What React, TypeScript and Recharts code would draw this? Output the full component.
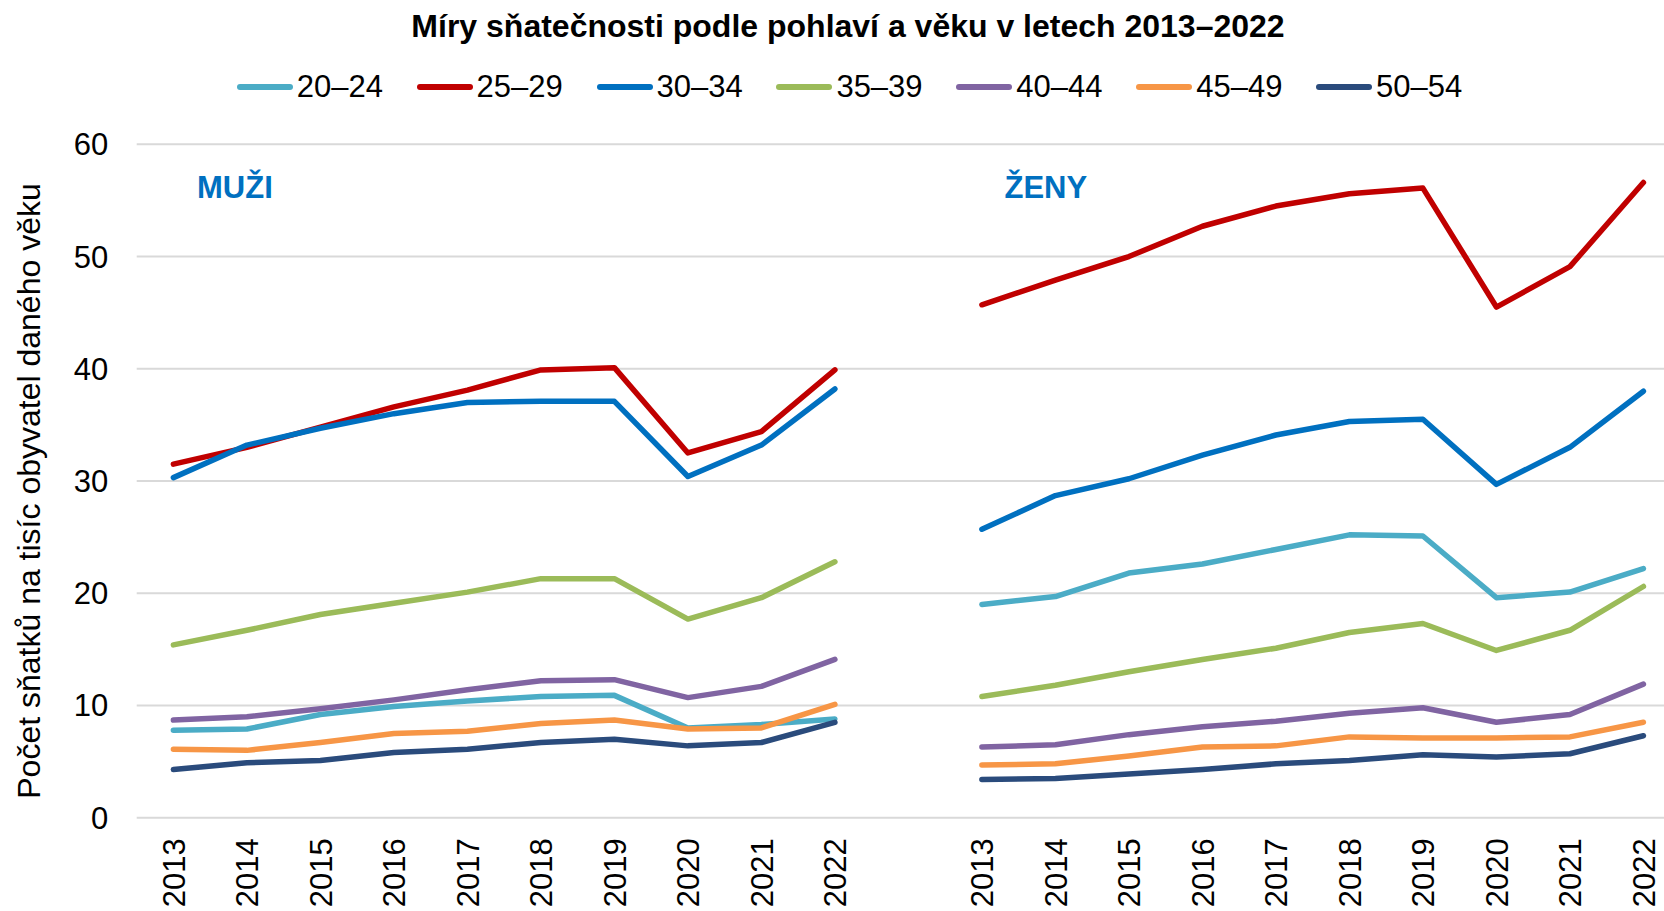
import React from 'react';
import { LineChart, Line, XAxis, YAxis, CartesianGrid, Legend } from 'recharts';

const FONT = '"Liberation Sans", Arial, sans-serif';

const years = ['2013', '2014', '2015', '2016', '2017', '2018', '2019', '2020', '2021', '2022'];
const seriesNames = ['20–24', '25–29', '30–34', '35–39', '40–44', '45–49', '50–54'];
const seriesColors = ['#4BACC6', '#C00000', '#0070C0', '#9BBB59', '#8064A2', '#F79646', '#2A4B7C'];

// MUŽI (men)
const men20 = [7.8, 7.9, 9.2, 9.9, 10.4, 10.8, 10.9, 8.0, 8.3, 8.8];
const men25 = [31.5, 33.0, 34.8, 36.6, 38.1, 39.9, 40.1, 32.5, 34.4, 39.9];
const men30 = [30.3, 33.2, 34.7, 36.0, 37.0, 37.1, 37.1, 30.4, 33.2, 38.2];
const men35 = [15.4, 16.7, 18.1, 19.1, 20.1, 21.3, 21.3, 17.7, 19.6, 22.8];
const men40 = [8.7, 9.0, 9.7, 10.5, 11.4, 12.2, 12.3, 10.7, 11.7, 14.1];
const men45 = [6.1, 6.0, 6.7, 7.5, 7.7, 8.4, 8.7, 7.9, 8.0, 10.1];
const men50 = [4.3, 4.9, 5.1, 5.8, 6.1, 6.7, 7.0, 6.4, 6.7, 8.5];

// ŽENY (women)
const women20 = [19.0, 19.7, 21.8, 22.6, 23.9, 25.2, 25.1, 19.6, 20.1, 22.2];
const women25 = [45.7, 47.9, 50.0, 52.7, 54.5, 55.6, 56.1, 45.5, 49.1, 56.6];
const women30 = [25.7, 28.7, 30.2, 32.3, 34.1, 35.3, 35.5, 29.7, 33.0, 38.0];
const women35 = [10.8, 11.8, 13.0, 14.1, 15.1, 16.5, 17.3, 14.9, 16.7, 20.6];
const women40 = [6.3, 6.5, 7.4, 8.1, 8.6, 9.3, 9.8, 8.5, 9.2, 11.9];
const women45 = [4.7, 4.8, 5.5, 6.3, 6.4, 7.2, 7.1, 7.1, 7.2, 8.5];
const women50 = [3.4, 3.5, 3.9, 4.3, 4.8, 5.1, 5.6, 5.4, 5.7, 7.3];

const yTicks = [0, 10, 20, 30, 40, 50, 60];

const menSeries = [men20, men25, men30, men35, men40, men45, men50];
const womenSeries = [women20, women25, women30, women35, women40, women45, women50];

type Row = { key: string; year: string; [k: string]: number | string | null };

const rows: Row[] = [];
years.forEach((y, i) => {
  const r: Row = { key: 'M' + y, year: y };
  menSeries.forEach((s, j) => (r['s' + j] = s[i]));
  rows.push(r);
});
{
  const gap: Row = { key: 'gap', year: '' };
  seriesNames.forEach((_, j) => (gap['s' + j] = null));
  rows.push(gap);
}
years.forEach((y, i) => {
  const r: Row = { key: 'Z' + y, year: y };
  womenSeries.forEach((s, j) => (r['s' + j] = s[i]));
  rows.push(r);
});

const XTick = (props: any) => {
  const { x, y, payload } = props;
  const lbl = rows[payload.index] ? rows[payload.index].year : '';
  if (!lbl) return null;
  return (
    <text
      x={x}
      y={y}
      transform={`rotate(-90, ${x}, ${y})`}
      textAnchor="end"
      dy="0.36em"
      fontSize={31}
      fill="#000"
      fontFamily={FONT}
    >
      {lbl}
    </text>
  );
};

const LegendContent = (props: any) => {
  const payload = props.payload || [];
  return (
    <div style={{ position: 'relative', width: 1664, height: 60 }}>
      {payload.map((p: any, i: number) => (
        <div
          key={i}
          style={{
            position: 'absolute',
            left: 236.7 + i * 179.9,
            top: 0,
            height: 60,
            display: 'flex',
            alignItems: 'center',
            whiteSpace: 'nowrap',
          }}
        >
          <span
            style={{
              display: 'inline-block',
              width: 56,
              height: 6,
              borderRadius: 3,
              background: p.color,
              marginRight: 4,
            }}
          />
          <span style={{ fontSize: 31, color: '#000', fontFamily: FONT, lineHeight: '60px' }}>{p.value}</span>
        </div>
      ))}
    </div>
  );
};

export default function App() {
  return (
    <div style={{ position: 'absolute', left: 0, top: 0, width: 1664, height: 911, overflow: 'hidden', background: '#fff' }}>
      <LineChart
        width={1664}
        height={911}
        data={rows}
        margin={{ top: 144.3, right: 0, bottom: 0, left: 0 }}
        style={{ fontFamily: FONT }}
      >
        <CartesianGrid vertical={false} stroke="#D9D9D9" strokeWidth={2} />
        <XAxis
          dataKey="key"
          type="category"
          interval={0}
          height={93.3}
          axisLine={false}
          tickLine={false}
          tickSize={0}
          tickMargin={20.6}
          padding={{ left: 36.7, right: 20.6 }}
          tick={<XTick />}
        />
        <YAxis
          domain={[0, 60]}
          ticks={yTicks}
          width={136.7}
          axisLine={false}
          tickLine={false}
          tickSize={0}
          tickMargin={28.4}
          tick={{ fontSize: 31, fill: '#000', fontFamily: FONT }}
          interval={0}
        />
        <Legend
          layout="horizontal"
          verticalAlign="middle"
          align="center"
          wrapperStyle={{ top: 57.3, left: 0, width: 1664, height: 60 }}
          content={<LegendContent />}
        />
        {seriesNames.map((name, j) => (
          <Line
            key={name}
            type="linear"
            dataKey={'s' + j}
            name={name}
            stroke={seriesColors[j]}
            strokeWidth={5.5}
            strokeLinejoin="round"
            strokeLinecap="round"
            dot={false}
            activeDot={false}
            isAnimationActive={false}
            connectNulls={false}
          />
        ))}
      </LineChart>
      <svg
        width={1664}
        height={911}
        style={{ position: 'absolute', left: 0, top: 0, pointerEvents: 'none' }}
      >
        <text x={848} y={36.5} textAnchor="middle" fontSize={32} fontWeight="bold" fill="#000" fontFamily={FONT}>
          Míry sňatečnosti podle pohlaví a věku v letech 2013–2022
        </text>
        <text
          x={40}
          y={491}
          transform="rotate(-90, 40, 491)"
          textAnchor="middle"
          fontSize={32}
          fill="#000"
          fontFamily={FONT}
        >
          Počet sňatků na tisíc obyvatel daného věku
        </text>
        <text x={197} y={198.3} fontSize={31} fontWeight="bold" fill="#0070C0" fontFamily={FONT}>
          MUŽI
        </text>
        <text x={1004.5} y={197.7} fontSize={31} fontWeight="bold" fill="#0070C0" fontFamily={FONT}>
          ŽENY
        </text>
      </svg>
    </div>
  );
}
